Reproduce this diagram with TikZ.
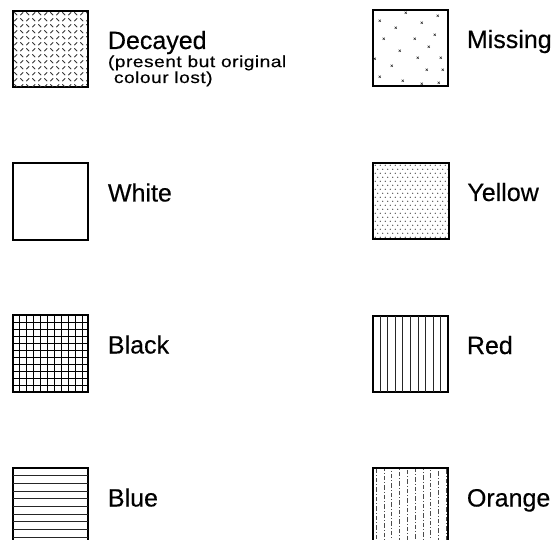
\documentclass[tikz,border=0pt]{standalone}
\usepackage{fontspec}
\setmainfont[FakeBold=0.4]{Liberation Sans}
\newfontfamily\notefont[FakeStretch=1.2,LetterSpace=3,FakeBold=0.4]{Liberation Sans}
\usetikzlibrary{positioning, calc}
\tikzset{
	swatch/.style   ={rectangle, draw=black, line width=2.4pt, fill=white, minimum width=75.5pt, minimum height=76.5pt, inner sep=0pt, outer sep=0pt},
	keytext/.style  ={font=\fontsize{25}{28}\selectfont, inner sep=0pt},
	notetext/.style ={font=\notefont\fontsize{16}{14}\selectfont, inner sep=0pt, align=left},
	% local frame of a swatch: origin at its top left corner, clipped inside the border
	inbox/.style    ={shift={(#1.north west)}},
	dashmark/.style ={line width=0.9pt, black!80},
	xmark/.style    ={line width=0.6pt, black!80},
	rule/.style     ={line width=1pt, black!85},
}

\begin{document}
\begin{tikzpicture}[x=1pt, y=-1pt]
	\useasboundingbox (0,0) rectangle (557,540);
	% swatches
	\node[swatch] (decayed) at (50.5,49) {};
	\node[swatch] (white)   at (50.5,201.5) {};
	\node[swatch] (black)   at (50.5,353.5) {};
	\node[swatch] (blue)    at (50.5,506.5) {};
	\node[swatch] (missing) at (410.5,48) {};
	\node[swatch] (yellow)  at (411,201) {};
	\node[swatch] (red)     at (410.5,354) {};
	\node[swatch] (orange)  at (410.5,506.5) {};
	% decayed
	\begin{scope}[inbox=decayed]
		\clip (1.2,1.2) rectangle (74.3,75.3);
		\foreach \i in {0,...,12}
		\foreach \j in {0,...,12}{
			\ifodd\numexpr\i+\j\relax
			\draw[dashmark] (3+6*\i-1.4, 3+6*\j+1.4) -- ++(2.8,-2.8);
			\else
			\draw[dashmark] (3+6*\i-1.4, 3+6*\j-1.4) -- ++(2.8,2.8);
			\fi}
	\end{scope}
	% missing
	\begin{scope}[inbox=missing]
		\foreach \p in {(7,11),(23,18),(49,13),(65,6),(11,29),(42,29),(62,25),(56,37),(27,41),(45,48),
			(68,48),(19,56),(54,60),(70,60),(7,67),(30,71),(49,74),(66,73),(33,3),(2,49)}
		\draw[xmark, shift={\p}] (-1.1,-1.1) -- (1.1,1.1) (-1.1,1.1) -- (1.1,-1.1);
	\end{scope}
	% yellow
	\begin{scope}[inbox=yellow]
		\clip (1.2,1.2) rectangle (74.3,75.3);
		\foreach \j in {0,...,18}
		\foreach \i in {0,...,15}{
			\ifodd\j
			\fill[black!80] (4.5+5*\i, 2.5+4*\j) circle (0.65);
			\else
			\fill[black!80] (2+5*\i, 2.5+4*\j) circle (0.65);
			\fi}
	\end{scope}
	% black
	\begin{scope}[inbox=black]
		\foreach \k in {1,...,10}
		\draw[line width=1.4pt] (7*\k,0) -- (7*\k,76.5) (0,7*\k) -- (75.5,7*\k);
	\end{scope}
	% red
	\begin{scope}[inbox=red]
		\foreach \k in {1,...,9}
		\draw[rule] (7.55*\k,0) -- (7.55*\k,76.5);
	\end{scope}
	% blue
	\begin{scope}[inbox=blue]
		\foreach \k in {1,...,9}
		\draw[rule] (0,7.65*\k) -- (75.5,7.65*\k);
	\end{scope}
	% orange
	\begin{scope}[inbox=orange]
		\clip (1.2,1.2) rectangle (74.3,75.3);
		\foreach \k in {0,...,9}
		\draw[line width=0.9pt, black!70, dash pattern={on 4.5pt off 2pt on 1pt off 2pt}, dash phase=2*\k]
			(3.5+7.8*\k,0) -- (3.5+7.8*\k,76.5);
	\end{scope}
	% labels
	\node[keytext, right=19.5pt of decayed, anchor=base west] (decayedlbl) {Decayed};
	\node[notetext, anchor=base west] (decayednote) at ([yshift=-34pt]decayedlbl.base west)
		{(present but original\\\hspace*{6pt}colour lost)};
	\node[keytext, right=19.5pt of white, anchor=base west]   (whitelbl)   {White};
	\node[keytext, right=19.5pt of black, anchor=base west]   (blacklbl)   {Black};
	\node[keytext, right=19.5pt of blue, anchor=base west]    (bluelbl)    {Blue};
	\node[keytext, right=18.5pt of missing, anchor=base west] (missinglbl) {Missing};
	\node[keytext, right=18.5pt of yellow, anchor=base west]  (yellowlbl)  {Yellow};
	\node[keytext, right=18.5pt of red, anchor=base west]     (redlbl)     {Red};
	\node[keytext, right=18.5pt of orange, anchor=base west]  (orangelbl)  {Orange};
\end{tikzpicture}
\end{document}
